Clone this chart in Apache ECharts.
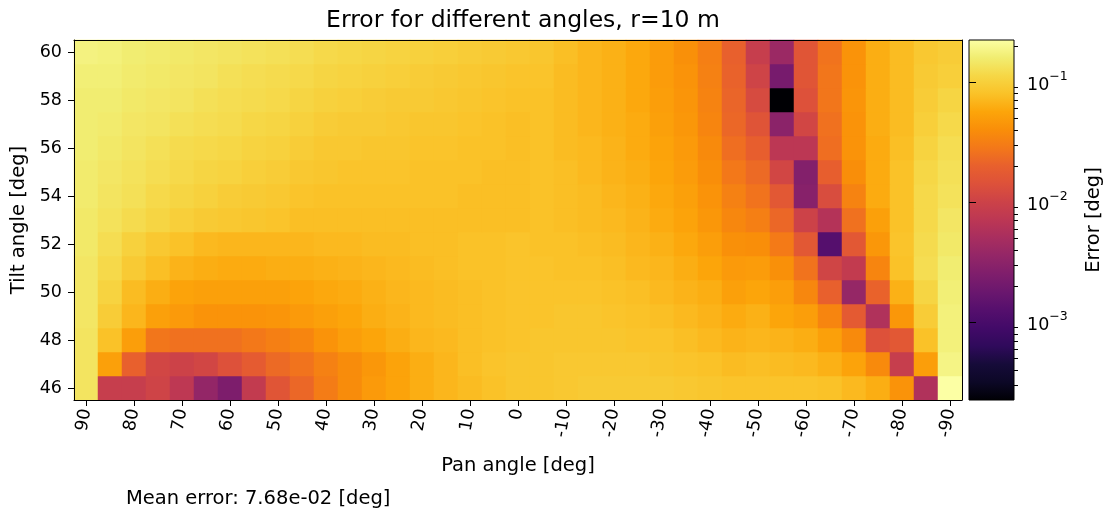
<!DOCTYPE html>
<html>
<head>
<meta charset="utf-8">
<script src="https://cdn.jsdelivr.net/npm/echarts@6/dist/echarts.min.js"></script>
<style>
  html, body { margin: 0; padding: 0; background: #fff; }
  #chart { width: 1107px; height: 508px; }
</style>
</head>
<body>
<div id="chart"></div>
<script>
// Pan angles (columns, left to right) and tilt angles (rows, bottom to top), in degrees
const panAngles = [90, 85, 80, 75, 70, 65, 60, 55, 50, 45, 40, 35, 30, 25, 20, 15, 10, 5, 0,
  -5, -10, -15, -20, -25, -30, -35, -40, -45, -50, -55, -60, -65, -70, -75, -80, -85, -90];
const tiltAngles = [46, 47, 48, 49, 50, 51, 52, 53, 54, 55, 56, 57, 58, 59, 60];

// Tick labels shown on the axes
const panTickLabels = ['90', '80', '70', '60', '50', '40', '30', '20', '10', '0',
  '-10', '-20', '-30', '-40', '-50', '-60', '-70', '-80', '-90'];
const tiltTickLabels = ['46', '48', '50', '52', '54', '56', '58', '60'];

// Error [deg] per tilt row (46 .. 60), each row ordered like panAngles
const errorByTilt = [
  /* 46 */ [0.138, 0.00873, 0.00873, 0.0104, 0.00735, 0.00356, 0.00244, 0.00815, 0.0157, 0.0222, 0.0303, 0.0385, 0.0474, 0.0544, 0.0624, 0.0692, 0.0741, 0.0794, 0.0851, 0.0851, 0.0881, 0.0912, 0.0912, 0.0912, 0.0912, 0.0881, 0.0851, 0.0822, 0.0822, 0.0822, 0.0822, 0.0794, 0.0716, 0.0624, 0.0428, 0.00578, 0.224],
  /* 47 */ [0.138, 0.0526, 0.0200, 0.0111, 0.0100, 0.0111, 0.0142, 0.0180, 0.0230, 0.0264, 0.0324, 0.0385, 0.0458, 0.0544, 0.0624, 0.0692, 0.0767, 0.0822, 0.0851, 0.0851, 0.0881, 0.0881, 0.0881, 0.0881, 0.0851, 0.0822, 0.0794, 0.0741, 0.0767, 0.0741, 0.0716, 0.0646, 0.0544, 0.0372, 0.00873, 0.0508, 0.182],
  /* 48 */ [0.138, 0.0794, 0.0508, 0.0273, 0.0255, 0.0255, 0.0255, 0.0282, 0.0313, 0.0348, 0.0428, 0.0508, 0.0562, 0.0624, 0.0692, 0.0716, 0.0767, 0.0794, 0.0822, 0.0851, 0.0851, 0.0851, 0.0851, 0.0822, 0.0822, 0.0767, 0.0716, 0.0668, 0.0692, 0.0668, 0.0624, 0.0526, 0.0372, 0.0142, 0.0168, 0.0794, 0.170],
  /* 49 */ [0.143, 0.0944, 0.0692, 0.0526, 0.0474, 0.0428, 0.0428, 0.0428, 0.0443, 0.0474, 0.0526, 0.0562, 0.0624, 0.0668, 0.0716, 0.0741, 0.0767, 0.0794, 0.0822, 0.0822, 0.0851, 0.0851, 0.0822, 0.0794, 0.0767, 0.0716, 0.0668, 0.0603, 0.0646, 0.0562, 0.0508, 0.0348, 0.0174, 0.00578, 0.0458, 0.0944, 0.170],
  /* 50 */ [0.143, 0.105, 0.0741, 0.0624, 0.0544, 0.0526, 0.0526, 0.0526, 0.0526, 0.0544, 0.0582, 0.0603, 0.0646, 0.0692, 0.0716, 0.0741, 0.0767, 0.0794, 0.0822, 0.0822, 0.0822, 0.0822, 0.0794, 0.0767, 0.0716, 0.0668, 0.0624, 0.0526, 0.0562, 0.0508, 0.0360, 0.0200, 0.00369, 0.0207, 0.0646, 0.108, 0.164],
  /* 51 */ [0.143, 0.116, 0.0912, 0.0767, 0.0668, 0.0624, 0.0603, 0.0603, 0.0624, 0.0624, 0.0646, 0.0668, 0.0692, 0.0716, 0.0741, 0.0767, 0.0794, 0.0794, 0.0822, 0.0822, 0.0794, 0.0794, 0.0767, 0.0716, 0.0692, 0.0624, 0.0562, 0.0474, 0.0491, 0.0413, 0.0264, 0.0107, 0.00815, 0.0348, 0.0794, 0.124, 0.158],
  /* 52 */ [0.148, 0.124, 0.101, 0.0881, 0.0794, 0.0716, 0.0692, 0.0692, 0.0692, 0.0692, 0.0716, 0.0716, 0.0741, 0.0741, 0.0767, 0.0767, 0.0794, 0.0794, 0.0822, 0.0794, 0.0794, 0.0767, 0.0741, 0.0692, 0.0646, 0.0582, 0.0508, 0.0413, 0.0399, 0.0292, 0.0168, 0.00126, 0.0168, 0.0458, 0.0822, 0.120, 0.148],
  /* 53 */ [0.148, 0.133, 0.120, 0.108, 0.0977, 0.0912, 0.0881, 0.0851, 0.0822, 0.0767, 0.0767, 0.0767, 0.0767, 0.0767, 0.0767, 0.0767, 0.0767, 0.0767, 0.0767, 0.0794, 0.0767, 0.0741, 0.0716, 0.0668, 0.0603, 0.0544, 0.0458, 0.0360, 0.0313, 0.0222, 0.0100, 0.00619, 0.0255, 0.0526, 0.0794, 0.116, 0.143],
  /* 54 */ [0.153, 0.138, 0.129, 0.116, 0.108, 0.101, 0.0944, 0.0912, 0.0881, 0.0822, 0.0794, 0.0794, 0.0794, 0.0794, 0.0794, 0.0794, 0.0767, 0.0767, 0.0767, 0.0794, 0.0767, 0.0741, 0.0692, 0.0646, 0.0582, 0.0526, 0.0428, 0.0324, 0.0264, 0.0168, 0.00290, 0.0128, 0.0336, 0.0603, 0.0794, 0.116, 0.133],
  /* 55 */ [0.153, 0.143, 0.133, 0.124, 0.116, 0.108, 0.105, 0.0977, 0.0944, 0.0881, 0.0851, 0.0822, 0.0822, 0.0822, 0.0794, 0.0794, 0.0794, 0.0767, 0.0767, 0.0794, 0.0767, 0.0716, 0.0668, 0.0624, 0.0562, 0.0491, 0.0399, 0.0282, 0.0230, 0.0111, 0.00270, 0.0193, 0.0399, 0.0603, 0.0794, 0.112, 0.129],
  /* 56 */ [0.158, 0.148, 0.138, 0.129, 0.120, 0.116, 0.112, 0.105, 0.101, 0.0944, 0.0881, 0.0881, 0.0851, 0.0851, 0.0822, 0.0822, 0.0794, 0.0794, 0.0767, 0.0794, 0.0741, 0.0716, 0.0668, 0.0603, 0.0544, 0.0474, 0.0372, 0.0246, 0.0193, 0.00710, 0.00710, 0.0246, 0.0428, 0.0603, 0.0767, 0.105, 0.124],
  /* 57 */ [0.158, 0.153, 0.143, 0.138, 0.129, 0.124, 0.120, 0.112, 0.108, 0.101, 0.0944, 0.0912, 0.0912, 0.0881, 0.0851, 0.0851, 0.0822, 0.0794, 0.0767, 0.0794, 0.0741, 0.0692, 0.0646, 0.0603, 0.0526, 0.0458, 0.0348, 0.0222, 0.0152, 0.00310, 0.0111, 0.0255, 0.0428, 0.0624, 0.0741, 0.0977, 0.116],
  /* 58 */ [0.158, 0.158, 0.148, 0.143, 0.138, 0.129, 0.124, 0.120, 0.116, 0.108, 0.101, 0.0977, 0.0944, 0.0912, 0.0912, 0.0881, 0.0851, 0.0822, 0.0794, 0.0794, 0.0741, 0.0692, 0.0646, 0.0582, 0.0508, 0.0443, 0.0336, 0.0214, 0.0123, 0.000225, 0.0142, 0.0273, 0.0443, 0.0624, 0.0741, 0.0944, 0.108],
  /* 59 */ [0.164, 0.164, 0.153, 0.148, 0.143, 0.138, 0.129, 0.124, 0.120, 0.116, 0.108, 0.105, 0.101, 0.0977, 0.0944, 0.0912, 0.0881, 0.0851, 0.0822, 0.0822, 0.0741, 0.0692, 0.0646, 0.0582, 0.0491, 0.0428, 0.0324, 0.0207, 0.0104, 0.00220, 0.0157, 0.0273, 0.0428, 0.0624, 0.0741, 0.0912, 0.0977],
  /* 60 */ [0.176, 0.170, 0.158, 0.153, 0.148, 0.143, 0.138, 0.133, 0.129, 0.124, 0.116, 0.112, 0.108, 0.105, 0.101, 0.0977, 0.0944, 0.0912, 0.0881, 0.0851, 0.0767, 0.0692, 0.0646, 0.0582, 0.0491, 0.0413, 0.0313, 0.0200, 0.00873, 0.00409, 0.0157, 0.0264, 0.0428, 0.0624, 0.0741, 0.0881, 0.0944]
];

const meanErrorText = 'Mean error: 7.68e-02 [deg]';

// Inferno colour map stops (0 .. 1)
const inferno = ['#000004', '#0c0826', '#160b39', '#2f0a5b', '#420a68', '#550f6d', '#6a176e',
  '#7f1e6c', '#932667', '#a82e5f', '#bc3754', '#cc4248', '#dd513a', '#e8602d', '#f37819',
  '#f98e09', '#fca50a', '#fac228', '#f6d746', '#f1ed71', '#fcffa4'];

const FONT = 'DejaVu Sans';

// Log-normalised cells: [panIndex, tiltIndex, log10(error)]
const cells = [];
let logMin = Infinity, logMax = -Infinity;
errorByTilt.forEach((row, ti) => {
  row.forEach((v, pi) => {
    const lv = Math.log10(v);
    logMin = Math.min(logMin, lv);
    logMax = Math.max(logMax, lv);
    cells.push([pi, ti, lv]);
  });
});

// Colour bar tick positions (log10 space)
const majorTicks = [];
const minorTicks = [];
for (let k = -4; k <= 0; k++) {
  if (k >= logMin && k <= logMax) majorTicks.push(k);
  for (let m = 2; m <= 9; m++) {
    const p = k + Math.log10(m);
    if (p >= logMin && p <= logMax) minorTicks.push(p);
  }
}

const chart = echarts.init(document.getElementById('chart'), null, { renderer: 'canvas' });

const frameAxisX = {
  gridIndex: 0, type: 'category', data: panAngles.map(String), position: 'top', z: 10,
  axisLine: { show: true, lineStyle: { color: '#000', width: 1 } },
  axisTick: { show: false }, axisLabel: { show: false }, splitLine: { show: false }
};
const frameAxisY = {
  gridIndex: 0, type: 'category', data: tiltAngles.map(String), position: 'right', z: 10,
  axisLine: { show: true, lineStyle: { color: '#000', width: 1 } },
  axisTick: { show: false }, axisLabel: { show: false }, splitLine: { show: false }
};

chart.setOption({
  animation: false,
  backgroundColor: '#fff',
  textStyle: { fontFamily: FONT },
  title: [
    {
      text: 'Error for different angles, r=10 m',
      left: 518, top: 4, textAlign: 'center',
      textStyle: { fontFamily: FONT, fontSize: 23.5, fontWeight: 'normal', color: '#000' }
    },
    {
      text: meanErrorText,
      left: 121, top: 484,
      textStyle: { fontFamily: FONT, fontSize: 19.5, fontWeight: 'normal', color: '#000' }
    }
  ],
  grid: [
    { left: 74, top: 40, width: 888, height: 360, containLabel: false, outerBoundsMode: 'none' },
    { left: 969, top: 40, width: 45, height: 360, containLabel: false, outerBoundsMode: 'none' }
  ],
  xAxis: [
    {
      gridIndex: 0, type: 'category', data: panAngles.map(String), z: 10,
      name: 'Pan angle [deg]', nameLocation: 'middle', nameGap: 56,
      nameTextStyle: { fontFamily: FONT, fontSize: 19.5, color: '#000' },
      axisLine: { show: true, lineStyle: { color: '#000', width: 1 } },
      axisTick: {
        show: true, alignWithLabel: true, length: 6,
        interval: (i, v) => panTickLabels.includes(v),
        lineStyle: { color: '#000', width: 1 }
      },
      axisLabel: {
        show: true, rotate: 80, margin: 9,
        interval: (i, v) => panTickLabels.includes(v),
        fontFamily: FONT, fontSize: 17.5, color: '#000'
      },
      splitLine: { show: false }
    },
    frameAxisX,
    { gridIndex: 1, type: 'value', min: 0, max: 1, show: false }
  ],
  yAxis: [
    {
      gridIndex: 0, type: 'category', data: tiltAngles.map(String), z: 10,
      name: 'Tilt angle [deg]', nameLocation: 'middle', nameGap: 41,
      nameTextStyle: { fontFamily: FONT, fontSize: 19.5, color: '#000' },
      axisLine: { show: true, lineStyle: { color: '#000', width: 1 } },
      axisTick: {
        show: true, alignWithLabel: true, length: 6,
        interval: (i, v) => tiltTickLabels.includes(v),
        lineStyle: { color: '#000', width: 1 }
      },
      axisLabel: {
        show: true, margin: 12,
        interval: (i, v) => tiltTickLabels.includes(v),
        fontFamily: FONT, fontSize: 17.5, color: '#000'
      },
      splitLine: { show: false }
    },
    frameAxisY,
    {
      gridIndex: 1, type: 'value', min: logMin, max: logMax, position: 'right', z: 10,
      name: 'Error [deg]', nameLocation: 'middle', nameGap: 70, nameRotate: 90,
      nameTextStyle: { fontFamily: FONT, fontSize: 19.5, color: '#000' },
      axisLine: { show: false },
      axisTick: { show: true, length: 7, customValues: majorTicks, lineStyle: { color: '#000', width: 1 } },
      axisLabel: {
        show: true, margin: 13, customValues: majorTicks,
        formatter: (v) => '{b|10}{s|\u2212' + Math.round(-v) + '}',
        rich: {
          b: { fontFamily: FONT, fontSize: 17.5, color: '#000', lineHeight: 24, verticalAlign: 'bottom' },
          s: { fontFamily: FONT, fontSize: 12.5, color: '#000', lineHeight: 24, verticalAlign: 'top' }
        }
      },
      splitLine: { show: false }
    },
    {
      gridIndex: 1, type: 'value', min: logMin, max: logMax, position: 'right', z: 10,
      axisLine: { show: false },
      axisTick: { show: true, length: 4, customValues: minorTicks, lineStyle: { color: '#000', width: 1 } },
      axisLabel: { show: false },
      splitLine: { show: false }
    }
  ],
  visualMap: {
    type: 'continuous', show: false, seriesIndex: 0, dimension: 2,
    min: logMin, max: logMax,
    inRange: { color: inferno }
  },
  series: [
    {
      type: 'heatmap', xAxisIndex: 0, yAxisIndex: 0,
      data: cells,
      itemStyle: { borderWidth: 0 },
      emphasis: { disabled: true },
      progressive: 0
    },
    {
      // colour bar gradient spanning the normalised range
      type: 'custom', xAxisIndex: 2, yAxisIndex: 2, silent: true, z: 5,
      data: [[0, logMin]],
      renderItem: (params, api) => {
        const p0 = api.coord([0, logMax]);
        const p1 = api.coord([1, logMin]);
        return {
          type: 'rect',
          shape: { x: p0[0], y: p0[1], width: p1[0] - p0[0], height: p1[1] - p0[1] },
          style: {
            fill: new echarts.graphic.LinearGradient(0, 1, 0, 0,
              inferno.map((c, i) => ({ offset: i / (inferno.length - 1), color: c }))),
            stroke: '#000', lineWidth: 1
          }
        };
      }
    }
  ]
});
</script>
</body>
</html>
